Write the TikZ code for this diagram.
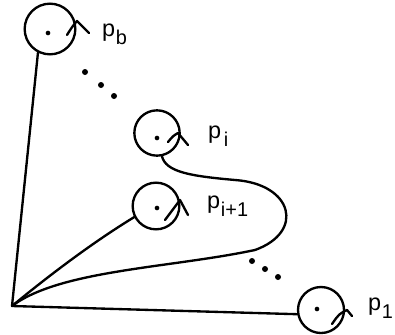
\documentclass[tikz,border=0pt]{standalone}
\usepackage{fontspec}
\setmainfont{Liberation Sans}
\usepackage{tikz}
\newcommand{\plab}[1]{p\kern0.03em\raisebox{-0.35em}{\fontsize{17}{17}\selectfont #1}}
\tikzset{
  lpline/.style={line width=2pt, draw=black, line cap=round, line join=round},
  lpring/.style={circle, draw=black, line width=2pt, inner sep=0pt},
  lpdot/.style={fill=black},
  lptwist/.style={line width=2pt, draw=black, line cap=round, line join=round},
  lplabel/.style={anchor=base west, inner sep=0pt, font=\fontsize{20}{20}\selectfont},
}
\begin{document}
\begin{tikzpicture}[x=0.03cm, y=-0.03cm]
\useasboundingbox (0,0) rectangle (395,334);
\coordinate (o) at (12,306);
\node[lpring, minimum size=1.52cm] (pb) at (50,29) {};
\node[lpring, minimum size=1.36cm] (pi) at (157,133) {};
\node[lpring, minimum size=1.40cm] (pn) at (156,206) {};
\node[lpring, minimum size=1.38cm] (p1) at (321,310) {};
% connectors
\draw[lpline] (pb.243) -- (o);
\draw[lpline] (pn.207) .. controls (95,241) and (52,273) .. (o);
\draw[lpline] (o) -- (p1.190);
\draw[lpline] (pi.282) .. controls (166,172) and (190,176) .. (235,180)
  .. controls (293,184) and (305,232) .. (255,250)
  .. controls (170,268) and (60,270) .. (o);
% centre dots
\fill[lpdot] (pb) ++(-2,4) circle (0.07cm);
\fill[lpdot] (pi) ++(0,5) circle (0.07cm);
\fill[lpdot] (pn) ++(1,2) circle (0.07cm);
\fill[lpdot] (p1) ++(-4,-1) circle (0.07cm);
% twists
\draw[lptwist, shift={(pb)}] (17,6) .. controls (22,-2) .. (27,-8) -- (39,4);
\draw[lptwist, shift={(pi)}] (11,9) .. controls (16,3) .. (21,0) -- (31,12);
\draw[lptwist, shift={(pn)}] (9,14) .. controls (17,4) .. (24,-6) -- (32,9);
\draw[lptwist, shift={(p1)}] (11,14) .. controls (18,4) .. (26,0) -- (31,6);
% ellipsis dots
\fill[lpdot] (85,72) circle (0.09cm);
\fill[lpdot] (101,85) circle (0.09cm);
\fill[lpdot] (114,96) circle (0.09cm);
\fill[lpdot] (252,261) circle (0.09cm);
\fill[lpdot] (265,269) circle (0.09cm);
\fill[lpdot] (278,277) circle (0.09cm);
% labels
\node[lplabel] (lb) at (102,36) {\plab{b}};
\node[lplabel] (li) at (208,138) {\plab{\kern0.1em i}};
\node[lplabel] (ln) at (207,208) {\plab{i+1}};
\node[lplabel] (l1) at (368,310) {\plab{1}};
\end{tikzpicture}
\end{document}
